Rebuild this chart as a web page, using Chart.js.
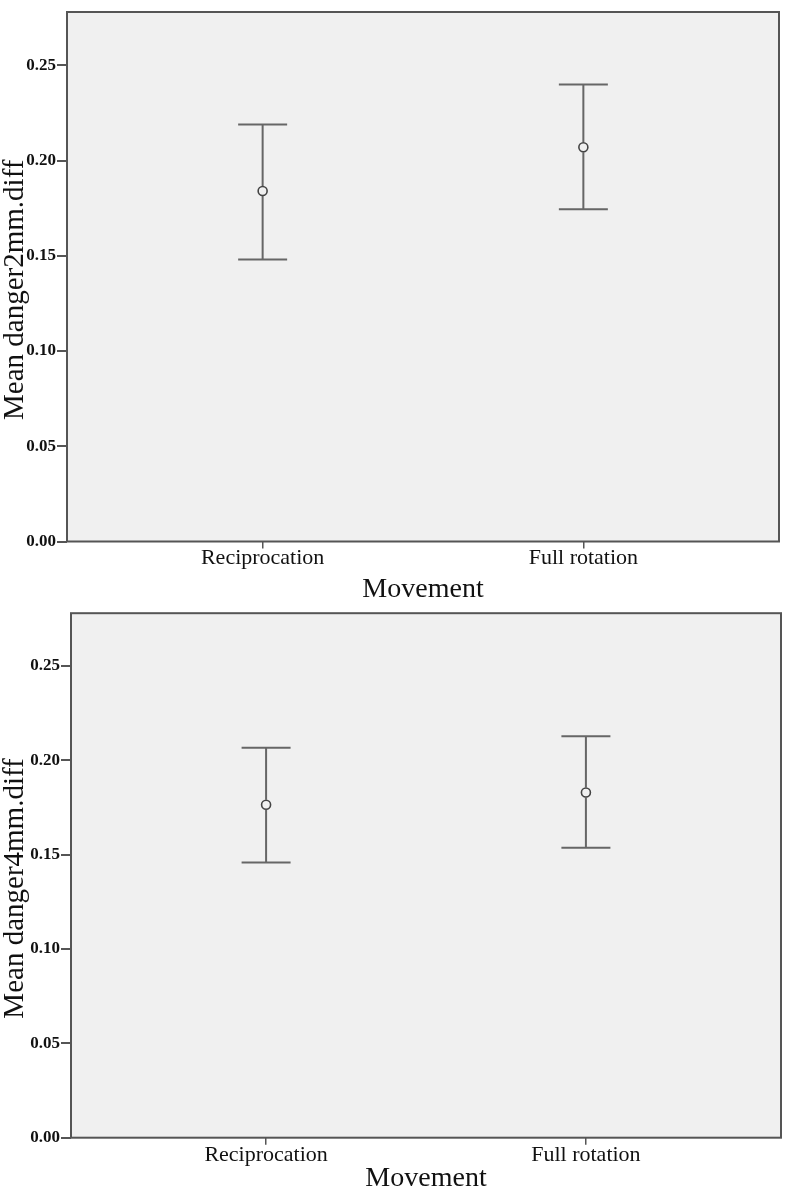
<!DOCTYPE html>
<html><head><meta charset="utf-8">
<script src="https://cdn.jsdelivr.net/npm/chart.js@4/dist/chart.umd.min.js"></script>
<style>
html,body{margin:0;padding:0;background:#fff;width:788px;height:1200px;overflow:hidden}
.w{position:absolute;left:0;width:788px}
</style></head>
<body>
<div class="w" style="top:0;height:602px"><canvas id="c1"></canvas></div>
<div class="w" style="top:602px;height:598px"><canvas id="c2"></canvas></div>
<script>
const categories = ['Reciprocation', 'Full rotation'];
const categoryPositions = [1, 2];
const yTickValues = [0, 0.05, 0.10, 0.15, 0.20, 0.25];

const mean2mm  = [0.184, 0.207];
const lower2mm = [0.148, 0.1745];
const upper2mm = [0.219, 0.240];

const mean4mm  = [0.1765, 0.183];
const lower4mm = [0.1458, 0.1537];
const upper4mm = [0.2067, 0.2128];

const SERIF = '"Liberation Serif", "DejaVu Serif", serif';
const INK = '#111';
const LINE = '#555';

const frameBg = {
  id: 'frameBg',
  beforeDraw(chart) {
    const a = chart.chartArea, ctx = chart.ctx;
    ctx.save();
    ctx.fillStyle = '#f0f0f0';
    ctx.fillRect(a.left, a.top, a.right - a.left, a.bottom - a.top);
    ctx.restore();
  },
  afterDraw(chart) {
    const a = chart.chartArea, ctx = chart.ctx;
    ctx.save();
    ctx.strokeStyle = LINE;
    ctx.lineWidth = 2;
    ctx.strokeRect(a.left, a.top, a.right - a.left, a.bottom - a.top);
    // vertical axis title
    const t = chart.options.plugins.yTitle;
    if (t && t.text) {
      ctx.translate(15, (a.top + a.bottom) / 2 + 13);
      ctx.rotate(-Math.PI / 2);
      ctx.fillStyle = INK;
      ctx.font = '29px ' + SERIF;
      ctx.textAlign = 'center';
      ctx.textBaseline = 'middle';
      ctx.fillText(t.text, 0, 0);
    }
    ctx.restore();
  }
};

const errorBars = {
  id: 'errorBars',
  beforeDatasetsDraw(chart) {
    const ctx = chart.ctx, xs = chart.scales.x, ys = chart.scales.y;
    chart.data.datasets.forEach(ds => {
      if (!ds.lower) return;
      ds.data.forEach((p, i) => {
        const x = xs.getPixelForValue(p.x);
        const yl = ys.getPixelForValue(ds.lower[i]);
        const yu = ys.getPixelForValue(ds.upper[i]);
        const yc = ys.getPixelForValue(p.y);
        const hw = 24.5, r = 5;
        ctx.save();
        ctx.strokeStyle = '#666';
        ctx.lineWidth = 2;
        ctx.beginPath();
        ctx.moveTo(x, yu); ctx.lineTo(x, yc - r);
        ctx.moveTo(x, yc + r); ctx.lineTo(x, yl);
        ctx.moveTo(x - hw, yu); ctx.lineTo(x + hw, yu);
        ctx.moveTo(x - hw, yl); ctx.lineTo(x + hw, yl);
        ctx.stroke();
        ctx.restore();
      });
    });
  }
};

function makeChart(id, means, lower, upper, yTitle, cfg) {
  const data = categoryPositions.map((x, i) => ({ x: x, y: means[i] }));
  return new Chart(document.getElementById(id), {
    type: 'scatter',
    data: {
      datasets: [{
        data: data,
        lower: lower,
        upper: upper,
        pointStyle: 'circle',
        pointRadius: 4.5,
        pointHoverRadius: 4.5,
        borderColor: '#444',
        borderWidth: 1.6,
        backgroundColor: 'rgba(0,0,0,0)'
      }]
    },
    options: {
      responsive: true,
      maintainAspectRatio: false,
      animation: false,
      devicePixelRatio: 1,
      events: [],
      layout: { padding: cfg.padding },
      plugins: { legend: { display: false }, tooltip: { enabled: false }, yTitle: { text: yTitle } },
      scales: {
        x: {
          type: 'linear',
          min: 0.39,
          max: 2.61,
          afterBuildTicks: s => { s.ticks = categoryPositions.map(v => ({ value: v })); },
          afterFit: s => { s.height = cfg.xHeight; },
          border: { display: false },
          grid: { drawOnChartArea: false, drawTicks: true, tickLength: 7, color: LINE, lineWidth: 1.5 },
          ticks: {
            padding: -3,
            color: INK,
            font: { family: SERIF, size: 22 },
            callback: v => categories[categoryPositions.indexOf(v)] ?? ''
          },
          title: {
            display: true,
            text: 'Movement',
            color: INK,
            font: { family: SERIF, size: 28, lineHeight: 1 },
            padding: { top: 0, bottom: cfg.xTitlePad }
          }
        },
        y: {
          type: 'linear',
          min: 0,
          max: 0.278,
          afterBuildTicks: s => { s.ticks = yTickValues.map(v => ({ value: v })); },
          afterFit: s => { s.width = cfg.yWidth; },
          border: { display: false },
          grid: { drawOnChartArea: false, drawTicks: true, tickLength: 10, color: LINE, lineWidth: 2 },
          ticks: {
            padding: 1,
            color: INK,
            font: { family: SERIF, size: 17, weight: 'bold' },
            callback: v => v.toFixed(2)
          },
          title: { display: false }
        }
      }
    },
    plugins: [frameBg, errorBars]
  });
}

makeChart('c1', mean2mm, lower2mm, upper2mm, 'Mean danger2mm.diff',
  { padding: { top: 12, right: 9, left: 0, bottom: 0 }, xHeight: 60.5, yWidth: 67, xTitlePad: -2 });
makeChart('c2', mean4mm, lower4mm, upper4mm, 'Mean danger4mm.diff',
  { padding: { top: 9, right: 7, left: 0, bottom: 0 }, xHeight: 62.3, yWidth: 71, xTitlePad: 7 });
</script>
</body></html>
